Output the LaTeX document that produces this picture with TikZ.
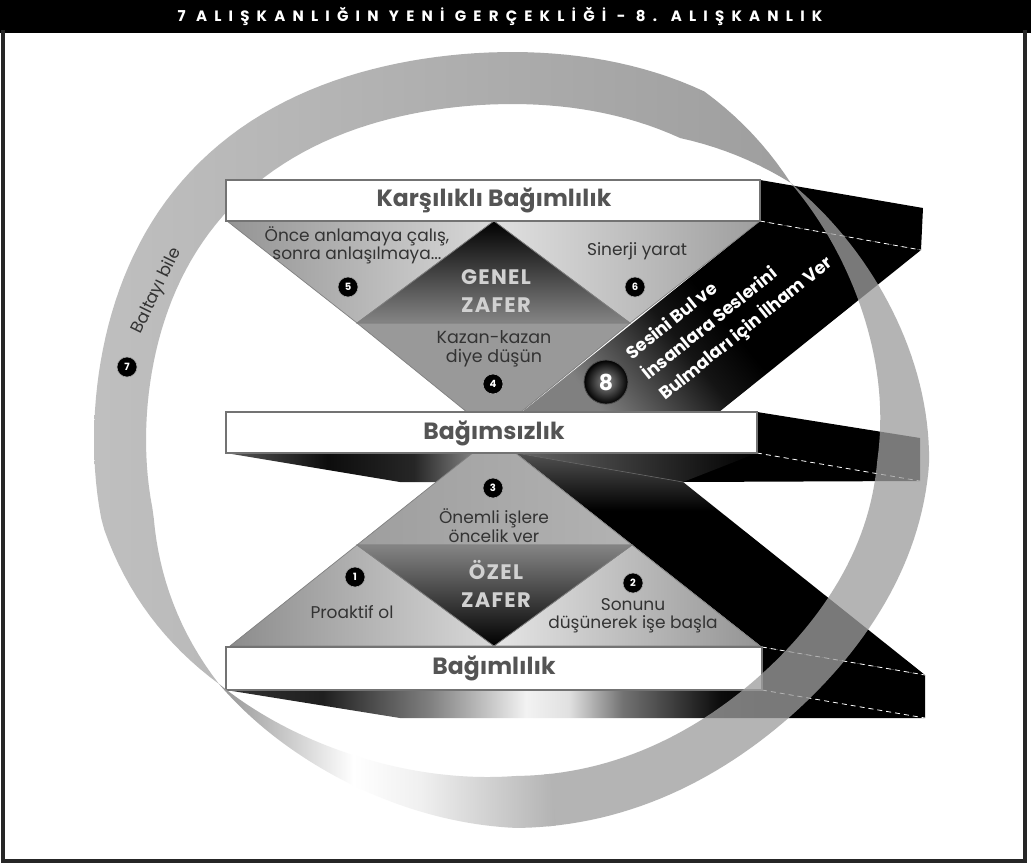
\documentclass[tikz,border=0pt]{standalone}
\usepackage{fontspec}
\setmainfont{Poppins}
\pgfdeclarehorizontalshading{botsh}{100bp}{color(0bp)=(black!80); color(25bp)=(black!80); color(34bp)=(black!88); color(44bp)=(black!50); color(53bp)=(black!5); color(57bp)=(black!12); color(62bp)=(black!55); color(71bp)=(black!95); color(75bp)=(black); color(100bp)=(black)}
\pgfdeclarehorizontalshading{midsh}{100bp}{color(0bp)=(black!65); color(25bp)=(black!65); color(45bp)=(black!95); color(62bp)=(black!85); color(75bp)=(black!45); color(100bp)=(black!45)}
\pgfdeclareverticalshading{bandsh}{100bp}{color(0bp)=(black!50); color(25bp)=(black!50); color(42bp)=(black!92); color(50bp)=(black); color(100bp)=(black)}
\pgfdeclareverticalshading{lowsh}{100bp}{color(0bp)=(black); color(62bp)=(black); color(75bp)=(black!68); color(100bp)=(black!68)}
\pgfdeclarehorizontalshading{ringb}{100bp}{color(0bp)=(black!42); color(25bp)=(black!42); color(45bp)=(white); color(55bp)=(black!6); color(75bp)=(black!30); color(100bp)=(black!30)}
\begin{document}
\begin{tikzpicture}[x=1pt,y=-1pt,
 declare function={
  gg(\x)=1+sin(2*\x)^2*(0.005+0.03*cos(\x-135));
  Cx(\x)=cos(\x)*gg(\x);
  Sy(\x)=sin(\x)*gg(\x);
  ub(\x)=(\x-45)*1.01695;
  hwb(\x)=26*min(1,ifthenelse(ub(\x)<90,3.2,2)*abs(sin(ub(\x))));
  uf(\x)=(\x-222)*0.98361;
  hwf(\x)=26*min(1,1.35*abs(sin(uf(\x))));
 },
 boxs/.style={draw=black!55,line width=1.2pt,fill=white},
 tris/.style={draw=black!50,line width=0.7pt},
 numc/.style={circle,fill=black,draw=black!35,line width=0.6pt,minimum size=20pt,inner sep=0pt,text=white,font=\bfseries\fontsize{10}{10}\selectfont},
 boxlab/.style={text=black!67,font=\bfseries\fontsize{23.5}{23.5}\selectfont},
 smalltxt/.style={text=black!80,font=\fontsize{17}{18}\selectfont,align=center},
 zafer/.style={text=black!18,font={\bfseries\fontsize{21}{28}\selectfont\addfontfeature{LetterSpace=6}},align=center},
 bandtxt/.style={text=white,font=\bfseries\fontsize{17.5}{26}\selectfont,align=left},
 dashl/.style={draw=white,line width=0.8pt,dash pattern=on 5pt off 4pt},
]
\useasboundingbox (0,0) rectangle (1031,865);
\fill[white] (0,0) rectangle (1031,865);
% ---------- back part of the ring
\shade[left color=black!25,right color=black!38] plot[domain=45:222,samples=100] ({512+(392+hwb(\x))*Cx(\x)},{440-(362+hwb(\x))*Sy(\x)}) -- plot[domain=222:45,samples=100] ({512+(392-hwb(\x))*Cx(\x)},{440-(362-hwb(\x))*Sy(\x)}) -- cycle;
% ---------- named corners
\coordinate (kbTR) at (760,180); \coordinate (kbBR) at (760,221);
\coordinate (tsT) at (923,208); \coordinate (tsB) at (921,250);
\coordinate (bzTR) at (757,412); \coordinate (bzBR) at (757,453);
\coordinate (msT) at (920,438); \coordinate (msB) at (920,481);
\coordinate (blTR) at (762,647); \coordinate (blBR) at (762,690);
\coordinate (bsT) at (925,675); \coordinate (bsB) at (925,718);
% ---------- top slab side and upper band
\fill[black] (kbTR) -- (tsT) -- (tsB) -- (kbBR) -- cycle;
\shade[shading=bandsh,shading angle=-51] (522,412) -- (kbBR) -- (tsB) -- (719,412) -- cycle;
% ---------- middle slab
\fill[black] (bzTR) -- (msT) -- (msB) -- (683,482) -- (516,453) -- (bzBR) -- cycle;
\shade[left color=black!60,right color=black] (516,453) -- (bzBR) -- (683,482) -- cycle;
\shade[shading=midsh] (226,453) -- (480,453) -- (480,482) -- (400,482) -- cycle;
% ---------- lower band and bottom slab
\shade[shading=lowsh] (516,453) -- (683,482) -- (bsT) -- (blTR) -- cycle;
\fill[black] (blTR) -- (bsT) -- (bsB) -- (762,718) -- cycle;
\shade[shading=botsh] (226,690) -- (blBR) -- (762,718) -- (400,718) -- cycle;
\draw[black!60,line width=0.6pt] (516,453) -- (683,482);
\draw[dashl] (kbBR) -- (tsB);
\draw[dashl] (bzBR) -- (msB);
\draw[dashl] (blTR) -- (bsT);
\draw[dashl] (blBR) -- (bsB);
% ---------- upper triangles
\shadedraw[tris,left color=black!42,right color=black!15] (227,221) -- (494,221) -- (357,323) -- cycle;
\shadedraw[tris,left color=black!12,right color=black!38] (494,221) -- (760,221) -- (630,323) -- cycle;
\shadedraw[tris,left color=black!40,middle color=black!8,right color=black!40] (357,323) -- (630,323) -- (494,434) -- cycle;
\shadedraw[tris,top color=black,bottom color=black!48] (494,221) -- (630,323) -- (357,323) -- cycle;
% ---------- lower triangles
\shadedraw[tris,left color=black!38,middle color=black!8,right color=black!30] (494,436) -- (632,545) -- (357,545) -- cycle;
\shadedraw[tris,left color=black!45,right color=black!15] (230,646) -- (357,545) -- (494,646) -- cycle;
\shadedraw[tris,left color=black!10,right color=black!42] (494,646) -- (632,545) -- (760,646) -- cycle;
\shadedraw[tris,top color=black!48,bottom color=black] (357,545) -- (632,545) -- (494,646) -- cycle;
% ---------- boxes
\draw[boxs] (226,180) rectangle (kbBR);
\draw[boxs] (226,412) rectangle (bzBR);
\draw[boxs] (226,647) rectangle (blBR);
% ---------- front part of the ring
\fill[black!38,fill opacity=0.77] plot[domain=275:405,samples=90] ({512+(392+hwf(\x))*Cx(\x)},{440-(362+hwf(\x))*Sy(\x)}) -- plot[domain=405:275,samples=90] ({512+(392-hwf(\x))*Cx(\x)},{440-(362-hwf(\x))*Sy(\x)}) -- cycle;
\shade[shading=ringb] plot[domain=222:276,samples=50] ({512+(392+hwf(\x))*Cx(\x)},{440-(362+hwf(\x))*Sy(\x)}) -- plot[domain=276:222,samples=50] ({512+(392-hwf(\x))*Cx(\x)},{440-(362-hwf(\x))*Sy(\x)}) -- cycle;
% ---------- header and frame
\fill[black] (0,0) rectangle (1031,33);
\draw[black!85,line width=4pt] (2.5,30) -- (2.5,861) -- (1024.5,861) -- (1024.5,30);
\node[text=white,font={\bfseries\fontsize{15}{15}\selectfont\addfontfeature{LetterSpace=48}}] (title) at (500,17) {7 ALIŞKANLIĞIN YENİ GERÇEKLİĞİ - 8. ALIŞKANLIK};
% ---------- labels
\node[boxlab] (kb) at (494,200) {Karşılıklı Bağımlılık};
\node[boxlab] (bz) at (494,433) {Bağımsızlık};
\node[boxlab] (bl) at (494,668) {Bağımlılık};
\node[smalltxt,font=\fontsize{17}{16.5}\selectfont] (t5) at (357,245) {Önce anlamaya çalış,\\sonra anlaşılmaya...};
\node[numc] (n5) at (348,287) {5};
\node[smalltxt] (t6) at (637,251) {Sinerji yarat};
\node[numc] (n6) at (635,287) {6};
\node[zafer] (gz) at (496,291) {GENEL\\ZAFER};
\node[smalltxt,font=\fontsize{17.5}{18.5}\selectfont] (t4) at (494,349) {Kazan-kazan\\diye düşün};
\node[numc] (n4) at (493,384) {4};
\node[numc] (n3) at (493,488) {3};
\node[smalltxt,font=\fontsize{17}{19}\selectfont] (t3) at (494,526) {Önemli işlere\\öncelik ver};
\node[zafer] (oz) at (496,584) {ÖZEL\\ZAFER};
\node[numc] (n1) at (355,577) {1};
\node[smalltxt] (t1) at (352,612) {Proaktif ol};
\node[numc] (n2) at (633,583) {2};
\node[smalltxt,font=\fontsize{17}{18}\selectfont] (t2) at (633,616) {Sonunu\\düşünerek işe başla};
\node[numc] (n7) at (127,367) {7};
\node[smalltxt,rotate=64] (t7) at (157,291) {Baltayı bile};
\node[circle,minimum size=44pt,inner sep=0pt,shade,inner color=black!45,outer color=black,draw=black!70,line width=0.8pt,text=white,font=\bfseries\fontsize{22}{22}\selectfont] (n8) at (606,382) {8};
\node[bandtxt,rotate=39] (t8) at (730,309) {Sesini Bul ve\\İnsanlara Seslerini\\Bulmaları için İlham Ver};
\end{tikzpicture}
\end{document}
